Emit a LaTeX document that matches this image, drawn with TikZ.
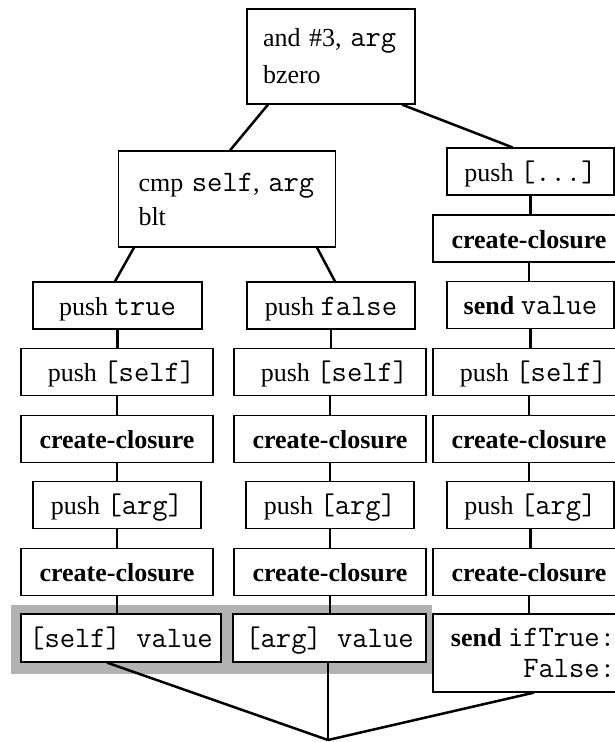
\documentclass[tikz,border=0pt]{standalone}
\usepackage{fontspec}
\setmainfont{Liberation Serif}
\usetikzlibrary{calc}
\newcommand\code[1]{{\fontsize{29.7}{34}\selectfont\ttfamily #1}}
\begin{document}
\begin{tikzpicture}[x=1pt,y=-1pt,
  box/.style={draw, line width=1.2pt, fill=white, inner sep=0pt, minimum height=47pt,
    text height=20.3pt, text depth=1.3pt, font=\fontsize{26}{36}\selectfont},
  mbox/.style={draw, line width=1.2pt, fill=white, inner sep=0pt},
  link/.style={line width=2.5pt}]
\useasboundingbox (0,0) rectangle (615,742);
% grey highlight
\fill[black!30] (11,605) rectangle (432,674);

% top nodes
\node[mbox, minimum width=168pt, minimum height=95pt, align=left, text width=136pt,
  font=\fontsize{26}{37}\selectfont] (top) at (331,56.5) {\mbox{and \#3, \code{arg}}\\bzero};
\node[mbox, minimum width=217pt, minimum height=96pt, align=left, text width=177pt,
  font=\fontsize{26}{34}\selectfont] (cmp) at (227,199) {\mbox{cmp \code{self}, \code{arg}}\\blt};

% left column
\node[box, minimum width=169pt] (l1) at (117.5,305.5) {push \code{true}};
\node[box, minimum width=192pt] (l2) at (117,372) {\hspace{9pt}push \code{[self]}};
\node[box, minimum width=192pt] (l3) at (117,439) {\textbf{create-closure}};
\node[box, minimum width=168pt] (l4) at (117,505) {push \code{[arg]}};
\node[box, minimum width=192pt] (l5) at (117,572) {\textbf{create-closure}};
\node[box, minimum width=200pt, minimum height=48pt] (l6) at (121,638) {\code{[self] value}};

% middle column
\node[box, minimum width=168pt] (m1) at (331,305.5) {push \code{false}};
\node[box, minimum width=192pt] (m2) at (330,372) {\hspace{9pt}push \code{[self]}};
\node[box, minimum width=192pt] (m3) at (330,439) {\textbf{create-closure}};
\node[box, minimum width=168pt] (m4) at (330,505) {push \code{[arg]}};
\node[box, minimum width=192pt] (m5) at (330,572) {\textbf{create-closure}};
\node[box, minimum width=193pt, minimum height=48pt] (m6) at (329.5,638) {\code{[arg] value}};

% right column
\node[box, minimum width=167pt] (r0) at (530.5,171.5) {push \code{[...]}};
\node[box, minimum width=192pt] (r1) at (529,238.5) {\textbf{create-closure}};
\node[box, minimum width=167pt] (r2) at (530.5,305) {\textbf{send} \code{value}};
\node[box, minimum width=192pt] (r3) at (529,372) {\hspace{9pt}push \code{[self]}};
\node[box, minimum width=192pt] (r4) at (529,439) {\textbf{create-closure}};
\node[box, minimum width=167pt] (r5) at (530.5,505) {push \code{[arg]}};
\node[box, minimum width=192pt] (r6) at (529,572) {\textbf{create-closure}};
\node[mbox, minimum width=200pt, minimum height=78pt, align=right,
  font=\fontsize{26}{31}\selectfont] (r7) at (533,653) {\textbf{send} \code{ifTrue:}\\\code{False:}};

% connectors from the tests
\draw[link] ($(top.south)+(-63,0)$) -- ($(cmp.north)+(3,0)$);
\draw[link] ($(top.south)+(71,0)$) -- ($(r0.north)+(-18,0)$);
\draw[link] ($(cmp.south)+(-93,0)$) -- ($(l1.north)+(-2.5,0)$);
\draw[link] ($(cmp.south)+(90,0)$) -- ($(m1.north)+(4,0)$);

% column chains
\foreach \a/\b in {l1/l2,l2/l3,l3/l4,l4/l5,l5/l6,
                   m1/m2,m2/m3,m3/m4,m4/m5,m5/m6,
                   r0/r1,r1/r2,r2/r3,r3/r4,r4/r5,r5/r6,r6/r7}
  \draw[link] (\a.south) -- (\a.south |- \b.north);

% join at the bottom
\coordinate (v) at (328,740);
\draw[link] ($(l6.south)+(-14,0)$) -- (v);
\draw[link] (v |- m6.south) -- (v);
\draw[link] ($(r7.south)+(1,0)$) -- (v);
\end{tikzpicture}
\end{document}
